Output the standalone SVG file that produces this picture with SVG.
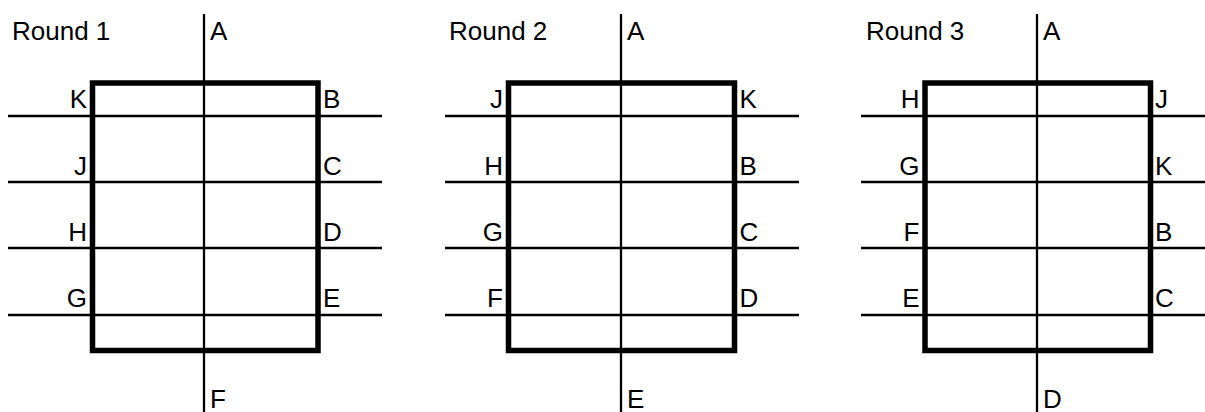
<svg xmlns="http://www.w3.org/2000/svg" width="1205" height="412" viewBox="0 0 1205 412">
<style>
.bg{fill:#fff}
.box{fill:none;stroke:#000;stroke-width:5.5}
.ln{stroke:#000;stroke-width:2.3;fill:none}
text{font-family:"Liberation Sans",Arial,sans-serif;font-size:26px;fill:#000}
.l{text-anchor:end}
</style>
<rect class="bg" x="0" y="0" width="1205" height="412"/>
<g id="connectors">
<path class="ln" d="M204 14V412 M8 116H382 M8 182H382 M8 248H382 M8 315H382"/>
<path class="ln" d="M621 14V412 M445 116H799 M445 182H799 M445 248H799 M445 315H799"/>
<path class="ln" d="M1037 14V412 M861 116H1205 M861 182H1205 M861 248H1205 M861 315H1205"/>
</g>
<g id="round1">
<rect class="box" x="92.5" y="83" width="225.5" height="267.5"/>
<text x="12" y="40">Round 1</text>
<text x="210" y="40">A</text>
<text x="210" y="408">F</text>
<text class="l" x="87" y="108">K</text>
<text class="l" x="87" y="175">J</text>
<text class="l" x="87" y="241">H</text>
<text class="l" x="87" y="307">G</text>
<text x="323" y="108">B</text>
<text x="323" y="175">C</text>
<text x="323" y="241">D</text>
<text x="323" y="307">E</text>
</g>
<g id="round2">
<rect class="box" x="508.5" y="83" width="226" height="267.5"/>
<text x="449" y="40">Round 2</text>
<text x="627" y="40">A</text>
<text x="627" y="408">E</text>
<text class="l" x="503" y="108">J</text>
<text class="l" x="503" y="175">H</text>
<text class="l" x="503" y="241">G</text>
<text class="l" x="503" y="307">F</text>
<text x="739.5" y="108">K</text>
<text x="739.5" y="175">B</text>
<text x="739.5" y="241">C</text>
<text x="739.5" y="307">D</text>
</g>
<g id="round3">
<rect class="box" x="925" y="83" width="225.5" height="267.5"/>
<text x="866" y="40">Round 3</text>
<text x="1043" y="40">A</text>
<text x="1043" y="408">D</text>
<text class="l" x="919.5" y="108">H</text>
<text class="l" x="919.5" y="175">G</text>
<text class="l" x="919.5" y="241">F</text>
<text class="l" x="919.5" y="307">E</text>
<text x="1155" y="108">J</text>
<text x="1155" y="175">K</text>
<text x="1155" y="241">B</text>
<text x="1155" y="307">C</text>
</g>
</svg>
